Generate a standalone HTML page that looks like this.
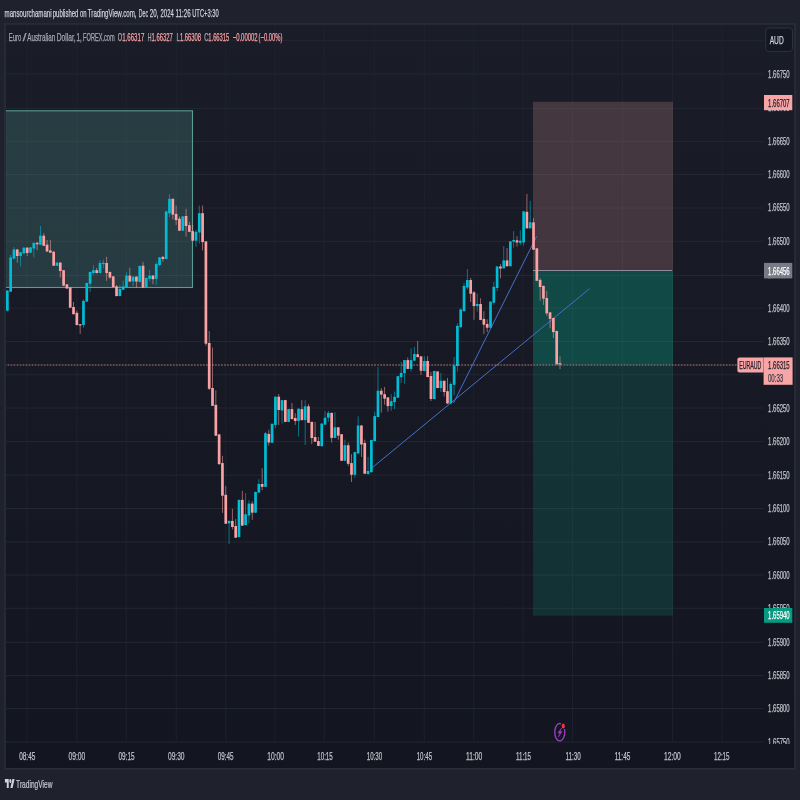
<!DOCTYPE html><html><head><meta charset="utf-8"><title>EURAUD chart</title><style>html,body{margin:0;padding:0;background:#1f222d;width:800px;height:800px;overflow:hidden}svg{display:block;font-family:"Liberation Sans",Arial,sans-serif}</style></head><body>
<svg width="800" height="800" viewBox="0 0 800 800">
<defs><linearGradient id="bg" x1="0" y1="0" x2="0" y2="1"><stop offset="0" stop-color="#1a1d28"/><stop offset="1" stop-color="#131620"/></linearGradient><clipPath id="pane"><rect x="6" y="25" width="757.5" height="717"/></clipPath><clipPath id="axis"><rect x="730" y="25" width="64" height="719"/></clipPath></defs>
<rect width="800" height="800" fill="#1f222d"/>
<text x="4.60" y="16.80" textLength="47.00" lengthAdjust="spacingAndGlyphs" font-size="11.2" fill="#d1d4dc" font-weight="normal" stroke="#d1d4dc" stroke-width="0.25">mansourchamani</text>
<text x="52.80" y="16.80" textLength="25.60" lengthAdjust="spacingAndGlyphs" font-size="11.2" fill="#d1d4dc" font-weight="normal" stroke="#d1d4dc" stroke-width="0.25">published</text>
<text x="79.95" y="16.80" textLength="6.60" lengthAdjust="spacingAndGlyphs" font-size="11.2" fill="#d1d4dc" font-weight="normal" stroke="#d1d4dc" stroke-width="0.25">on</text>
<text x="87.80" y="16.80" textLength="48.75" lengthAdjust="spacingAndGlyphs" font-size="11.2" fill="#d1d4dc" font-weight="normal" stroke="#d1d4dc" stroke-width="0.25">TradingView.com,</text>
<text x="138.80" y="16.80" textLength="9.30" lengthAdjust="spacingAndGlyphs" font-size="11.2" fill="#d1d4dc" font-weight="normal" stroke="#d1d4dc" stroke-width="0.25">Dec</text>
<text x="149.70" y="16.80" textLength="8.70" lengthAdjust="spacingAndGlyphs" font-size="11.2" fill="#d1d4dc" font-weight="normal" stroke="#d1d4dc" stroke-width="0.25">20,</text>
<text x="160.60" y="16.80" textLength="13.10" lengthAdjust="spacingAndGlyphs" font-size="11.2" fill="#d1d4dc" font-weight="normal" stroke="#d1d4dc" stroke-width="0.25">2024</text>
<text x="175.60" y="16.80" textLength="15.00" lengthAdjust="spacingAndGlyphs" font-size="11.2" fill="#d1d4dc" font-weight="normal" stroke="#d1d4dc" stroke-width="0.25">11:26</text>
<text x="192.20" y="16.80" textLength="26.50" lengthAdjust="spacingAndGlyphs" font-size="11.2" fill="#d1d4dc" font-weight="normal" stroke="#d1d4dc" stroke-width="0.25">UTC+3:30</text>
<rect x="5" y="24" width="790" height="744.7" fill="url(#bg)"/>
<g stroke="#232733" stroke-width="1"><line x1="27.00" y1="25" x2="27.00" y2="742" stroke-opacity="0.65"/><line x1="76.75" y1="25" x2="76.75" y2="742" stroke-opacity="0.65"/><line x1="126.25" y1="25" x2="126.25" y2="742" stroke-opacity="0.65"/><line x1="176.25" y1="25" x2="176.25" y2="742" stroke-opacity="0.65"/><line x1="225.75" y1="25" x2="225.75" y2="742" stroke-opacity="0.65"/><line x1="275.00" y1="25" x2="275.00" y2="742" stroke-opacity="0.65"/><line x1="324.25" y1="25" x2="324.25" y2="742" stroke-opacity="0.65"/><line x1="374.25" y1="25" x2="374.25" y2="742" stroke-opacity="0.65"/><line x1="424.25" y1="25" x2="424.25" y2="742" stroke-opacity="0.65"/><line x1="473.75" y1="25" x2="473.75" y2="742" stroke-opacity="0.65"/><line x1="523.00" y1="25" x2="523.00" y2="742" stroke-opacity="0.65"/><line x1="572.50" y1="25" x2="572.50" y2="742" stroke-opacity="0.65"/><line x1="622.50" y1="25" x2="622.50" y2="742" stroke-opacity="0.65"/><line x1="672.50" y1="25" x2="672.50" y2="742" stroke-opacity="0.65"/><line x1="722.00" y1="25" x2="722.00" y2="742" stroke-opacity="0.65"/><line x1="6" y1="40.75" x2="763.5" y2="40.75"/><line x1="6" y1="74.00" x2="763.5" y2="74.00"/><line x1="6" y1="108.45" x2="763.5" y2="108.45"/><line x1="6" y1="141.45" x2="763.5" y2="141.45"/><line x1="6" y1="174.50" x2="763.5" y2="174.50"/><line x1="6" y1="208.00" x2="763.5" y2="208.00"/><line x1="6" y1="241.30" x2="763.5" y2="241.30"/><line x1="6" y1="275.50" x2="763.5" y2="275.50"/><line x1="6" y1="308.20" x2="763.5" y2="308.20"/><line x1="6" y1="341.50" x2="763.5" y2="341.50"/><line x1="6" y1="374.80" x2="763.5" y2="374.80"/><line x1="6" y1="408.00" x2="763.5" y2="408.00"/><line x1="6" y1="441.45" x2="763.5" y2="441.45"/><line x1="6" y1="475.20" x2="763.5" y2="475.20"/><line x1="6" y1="508.50" x2="763.5" y2="508.50"/><line x1="6" y1="542.00" x2="763.5" y2="542.00"/><line x1="6" y1="575.00" x2="763.5" y2="575.00"/><line x1="6" y1="608.30" x2="763.5" y2="608.30"/><line x1="6" y1="642.30" x2="763.5" y2="642.30"/><line x1="6" y1="675.60" x2="763.5" y2="675.60"/><line x1="6" y1="708.60" x2="763.5" y2="708.60"/><line x1="6" y1="742.00" x2="763.5" y2="742.00"/></g>
<g stroke="#2a2d3a" stroke-width="1.6"><line x1="4.2" y1="24" x2="795.8" y2="24"/><line x1="4.2" y1="768.75" x2="795.8" y2="768.75"/><line x1="5" y1="23.2" x2="5" y2="769.5"/><line x1="795" y1="23.2" x2="795" y2="769.5"/></g>
<g clip-path="url(#pane)">
<rect x="5.5" y="110.8" width="187" height="176.7" fill="#66c2b6" fill-opacity="0.2" stroke="#5a9c91" stroke-width="1.1"/>
<rect x="533" y="101.8" width="140" height="168.7" fill="#f7a6a6" fill-opacity="0.2"/>
<rect x="533" y="270.5" width="140" height="345.2" fill="#089981" fill-opacity="0.2"/>
<rect x="533" y="270.5" width="140" height="94" fill="#089981" fill-opacity="0.22"/>
<line x1="533" y1="270.5" x2="672" y2="270.5" stroke="#8a8d99" stroke-width="1"/>
<line x1="370" y1="469.5" x2="589.5" y2="288.7" stroke="#4670c8" stroke-width="1"/>
<line x1="453.5" y1="403" x2="536.7" y2="236.2" stroke="#4670c8" stroke-width="1"/>
<g><rect x="6.89" y="290.00" width="0.9" height="21.50" fill="#00bcd4" opacity="0.6"/><rect x="5.99" y="290.50" width="2.7" height="20.20" fill="#00bcd4"/><rect x="10.20" y="255.00" width="0.9" height="37.00" fill="#00bcd4" opacity="0.6"/><rect x="9.30" y="257.50" width="2.7" height="34.20" fill="#00bcd4"/><rect x="13.51" y="247.00" width="0.9" height="12.00" fill="#00bcd4" opacity="0.6"/><rect x="12.61" y="249.50" width="2.7" height="9.20" fill="#00bcd4"/><rect x="16.82" y="249.00" width="0.9" height="13.70" fill="#faa1a4" opacity="0.6"/><rect x="15.92" y="249.50" width="2.7" height="6.50" fill="#faa1a4"/><rect x="20.13" y="252.00" width="0.9" height="14.50" fill="#00bcd4" opacity="0.6"/><rect x="19.23" y="252.20" width="2.7" height="3.80" fill="#00bcd4"/><rect x="23.44" y="247.00" width="0.9" height="7.50" fill="#00bcd4" opacity="0.6"/><rect x="22.54" y="247.70" width="2.7" height="5.60" fill="#00bcd4"/><rect x="26.75" y="247.00" width="0.9" height="9.00" fill="#faa1a4" opacity="0.6"/><rect x="25.85" y="247.70" width="2.7" height="5.30" fill="#faa1a4"/><rect x="30.06" y="247.00" width="0.9" height="6.00" fill="#00bcd4" opacity="0.6"/><rect x="29.16" y="247.40" width="2.7" height="5.30" fill="#00bcd4"/><rect x="33.37" y="242.00" width="0.9" height="15.50" fill="#00bcd4" opacity="0.6"/><rect x="32.47" y="243.00" width="2.7" height="5.50" fill="#00bcd4"/><rect x="36.68" y="242.00" width="0.9" height="8.00" fill="#faa1a4" opacity="0.6"/><rect x="35.78" y="242.80" width="2.7" height="1.50" fill="#faa1a4"/><rect x="39.99" y="226.00" width="0.9" height="19.00" fill="#00bcd4" opacity="0.6"/><rect x="39.09" y="235.70" width="2.7" height="9.00" fill="#00bcd4"/><rect x="43.30" y="233.20" width="0.9" height="12.80" fill="#faa1a4" opacity="0.6"/><rect x="42.40" y="235.70" width="2.7" height="10.10" fill="#faa1a4"/><rect x="46.61" y="240.00" width="0.9" height="12.00" fill="#faa1a4" opacity="0.6"/><rect x="45.71" y="244.70" width="2.7" height="6.80" fill="#faa1a4"/><rect x="49.92" y="240.00" width="0.9" height="13.00" fill="#faa1a4" opacity="0.6"/><rect x="49.02" y="250.40" width="2.7" height="2.30" fill="#faa1a4"/><rect x="53.22" y="251.00" width="0.9" height="15.00" fill="#faa1a4" opacity="0.6"/><rect x="52.32" y="251.80" width="2.7" height="13.90" fill="#faa1a4"/><rect x="56.53" y="262.00" width="0.9" height="4.00" fill="#00bcd4" opacity="0.6"/><rect x="55.63" y="262.70" width="2.7" height="3.10" fill="#00bcd4"/><rect x="59.84" y="262.30" width="0.9" height="15.20" fill="#faa1a4" opacity="0.6"/><rect x="58.94" y="262.60" width="2.7" height="8.40" fill="#faa1a4"/><rect x="63.15" y="270.00" width="0.9" height="16.00" fill="#faa1a4" opacity="0.6"/><rect x="62.25" y="270.20" width="2.7" height="15.50" fill="#faa1a4"/><rect x="66.46" y="284.00" width="0.9" height="5.00" fill="#faa1a4" opacity="0.6"/><rect x="65.56" y="284.40" width="2.7" height="4.10" fill="#faa1a4"/><rect x="69.77" y="287.00" width="0.9" height="21.00" fill="#faa1a4" opacity="0.6"/><rect x="68.87" y="287.50" width="2.7" height="20.20" fill="#faa1a4"/><rect x="73.08" y="302.00" width="0.9" height="12.50" fill="#faa1a4" opacity="0.6"/><rect x="72.18" y="307.00" width="2.7" height="7.20" fill="#faa1a4"/><rect x="76.39" y="310.50" width="0.9" height="15.00" fill="#faa1a4" opacity="0.6"/><rect x="75.49" y="312.80" width="2.7" height="12.20" fill="#faa1a4"/><rect x="79.70" y="324.00" width="0.9" height="9.90" fill="#faa1a4" opacity="0.6"/><rect x="78.80" y="324.30" width="2.7" height="1.20" fill="#faa1a4"/><rect x="83.01" y="299.50" width="0.9" height="28.20" fill="#00bcd4" opacity="0.6"/><rect x="82.11" y="300.90" width="2.7" height="24.10" fill="#00bcd4"/><rect x="86.32" y="282.50" width="0.9" height="19.50" fill="#00bcd4" opacity="0.6"/><rect x="85.42" y="283.00" width="2.7" height="18.60" fill="#00bcd4"/><rect x="89.63" y="271.50" width="0.9" height="20.50" fill="#00bcd4" opacity="0.6"/><rect x="88.73" y="272.00" width="2.7" height="11.70" fill="#00bcd4"/><rect x="92.94" y="265.10" width="0.9" height="9.60" fill="#00bcd4" opacity="0.6"/><rect x="92.04" y="270.20" width="2.7" height="2.80" fill="#00bcd4"/><rect x="96.25" y="268.00" width="0.9" height="5.50" fill="#faa1a4" opacity="0.6"/><rect x="95.35" y="270.20" width="2.7" height="2.80" fill="#faa1a4"/><rect x="99.55" y="260.30" width="0.9" height="13.20" fill="#00bcd4" opacity="0.6"/><rect x="98.65" y="263.00" width="2.7" height="10.00" fill="#00bcd4"/><rect x="102.86" y="259.60" width="0.9" height="8.90" fill="#00bcd4" opacity="0.6"/><rect x="101.96" y="262.80" width="2.7" height="1.30" fill="#00bcd4"/><rect x="106.17" y="256.80" width="0.9" height="24.10" fill="#faa1a4" opacity="0.6"/><rect x="105.27" y="263.00" width="2.7" height="10.00" fill="#faa1a4"/><rect x="109.48" y="271.50" width="0.9" height="7.40" fill="#faa1a4" opacity="0.6"/><rect x="108.58" y="272.00" width="2.7" height="5.50" fill="#faa1a4"/><rect x="112.79" y="276.00" width="0.9" height="11.50" fill="#faa1a4" opacity="0.6"/><rect x="111.89" y="276.40" width="2.7" height="10.60" fill="#faa1a4"/><rect x="116.10" y="285.00" width="0.9" height="11.50" fill="#faa1a4" opacity="0.6"/><rect x="115.20" y="286.30" width="2.7" height="9.70" fill="#faa1a4"/><rect x="119.41" y="285.00" width="0.9" height="11.50" fill="#00bcd4" opacity="0.6"/><rect x="118.51" y="288.80" width="2.7" height="7.20" fill="#00bcd4"/><rect x="122.72" y="280.80" width="0.9" height="9.20" fill="#00bcd4" opacity="0.6"/><rect x="121.82" y="286.30" width="2.7" height="3.50" fill="#00bcd4"/><rect x="126.03" y="272.30" width="0.9" height="15.20" fill="#00bcd4" opacity="0.6"/><rect x="125.13" y="275.60" width="2.7" height="11.40" fill="#00bcd4"/><rect x="129.34" y="267.70" width="0.9" height="14.30" fill="#faa1a4" opacity="0.6"/><rect x="128.44" y="275.60" width="2.7" height="5.90" fill="#faa1a4"/><rect x="132.65" y="276.00" width="0.9" height="10.30" fill="#00bcd4" opacity="0.6"/><rect x="131.75" y="276.70" width="2.7" height="4.80" fill="#00bcd4"/><rect x="135.96" y="276.00" width="0.9" height="11.70" fill="#faa1a4" opacity="0.6"/><rect x="135.06" y="276.70" width="2.7" height="4.80" fill="#faa1a4"/><rect x="139.27" y="265.50" width="0.9" height="16.70" fill="#00bcd4" opacity="0.6"/><rect x="138.37" y="266.00" width="2.7" height="15.90" fill="#00bcd4"/><rect x="142.58" y="261.80" width="0.9" height="26.20" fill="#faa1a4" opacity="0.6"/><rect x="141.68" y="265.70" width="2.7" height="22.00" fill="#faa1a4"/><rect x="145.88" y="277.00" width="0.9" height="11.00" fill="#00bcd4" opacity="0.6"/><rect x="144.98" y="278.00" width="2.7" height="9.70" fill="#00bcd4"/><rect x="149.19" y="269.80" width="0.9" height="11.70" fill="#00bcd4" opacity="0.6"/><rect x="148.29" y="275.60" width="2.7" height="3.20" fill="#00bcd4"/><rect x="152.50" y="275.00" width="0.9" height="9.30" fill="#faa1a4" opacity="0.6"/><rect x="151.60" y="275.60" width="2.7" height="3.60" fill="#faa1a4"/><rect x="155.81" y="262.20" width="0.9" height="22.80" fill="#00bcd4" opacity="0.6"/><rect x="154.91" y="264.00" width="2.7" height="14.80" fill="#00bcd4"/><rect x="159.12" y="257.00" width="0.9" height="9.40" fill="#00bcd4" opacity="0.6"/><rect x="158.22" y="257.40" width="2.7" height="7.60" fill="#00bcd4"/><rect x="162.43" y="255.80" width="0.9" height="5.80" fill="#faa1a4" opacity="0.6"/><rect x="161.53" y="256.90" width="2.7" height="2.10" fill="#faa1a4"/><rect x="165.74" y="210.50" width="0.9" height="48.80" fill="#00bcd4" opacity="0.6"/><rect x="164.84" y="211.50" width="2.7" height="47.50" fill="#00bcd4"/><rect x="169.05" y="194.00" width="0.9" height="23.30" fill="#00bcd4" opacity="0.6"/><rect x="168.15" y="198.80" width="2.7" height="14.50" fill="#00bcd4"/><rect x="172.36" y="198.50" width="0.9" height="20.90" fill="#faa1a4" opacity="0.6"/><rect x="171.46" y="198.80" width="2.7" height="15.80" fill="#faa1a4"/><rect x="175.67" y="205.60" width="0.9" height="19.30" fill="#faa1a4" opacity="0.6"/><rect x="174.77" y="213.90" width="2.7" height="6.20" fill="#faa1a4"/><rect x="178.98" y="216.40" width="0.9" height="14.60" fill="#faa1a4" opacity="0.6"/><rect x="178.08" y="218.70" width="2.7" height="12.00" fill="#faa1a4"/><rect x="182.29" y="216.00" width="0.9" height="15.00" fill="#00bcd4" opacity="0.6"/><rect x="181.39" y="216.40" width="2.7" height="14.30" fill="#00bcd4"/><rect x="185.60" y="209.00" width="0.9" height="27.60" fill="#faa1a4" opacity="0.6"/><rect x="184.70" y="216.00" width="2.7" height="10.00" fill="#faa1a4"/><rect x="188.91" y="221.90" width="0.9" height="10.10" fill="#faa1a4" opacity="0.6"/><rect x="188.01" y="225.20" width="2.7" height="6.60" fill="#faa1a4"/><rect x="192.22" y="224.90" width="0.9" height="16.10" fill="#faa1a4" opacity="0.6"/><rect x="191.31" y="231.10" width="2.7" height="9.60" fill="#faa1a4"/><rect x="195.52" y="229.70" width="0.9" height="17.20" fill="#00bcd4" opacity="0.6"/><rect x="194.62" y="231.80" width="2.7" height="8.90" fill="#00bcd4"/><rect x="198.83" y="205.60" width="0.9" height="37.90" fill="#00bcd4" opacity="0.6"/><rect x="197.93" y="213.20" width="2.7" height="19.30" fill="#00bcd4"/><rect x="202.14" y="205.60" width="0.9" height="44.80" fill="#faa1a4" opacity="0.6"/><rect x="201.24" y="213.20" width="2.7" height="28.90" fill="#faa1a4"/><rect x="205.45" y="241.00" width="0.9" height="104.70" fill="#faa1a4" opacity="0.6"/><rect x="204.55" y="241.40" width="2.7" height="102.30" fill="#faa1a4"/><rect x="208.76" y="331.00" width="0.9" height="59.00" fill="#faa1a4" opacity="0.6"/><rect x="207.86" y="343.00" width="2.7" height="45.80" fill="#faa1a4"/><rect x="212.07" y="347.50" width="0.9" height="58.50" fill="#faa1a4" opacity="0.6"/><rect x="211.17" y="388.00" width="2.7" height="17.90" fill="#faa1a4"/><rect x="215.38" y="390.30" width="0.9" height="45.70" fill="#faa1a4" opacity="0.6"/><rect x="214.48" y="404.80" width="2.7" height="30.90" fill="#faa1a4"/><rect x="218.69" y="434.00" width="0.9" height="31.00" fill="#faa1a4" opacity="0.6"/><rect x="217.79" y="434.40" width="2.7" height="29.70" fill="#faa1a4"/><rect x="222.00" y="455.80" width="0.9" height="57.10" fill="#faa1a4" opacity="0.6"/><rect x="221.10" y="463.10" width="2.7" height="32.60" fill="#faa1a4"/><rect x="225.31" y="486.10" width="0.9" height="37.90" fill="#faa1a4" opacity="0.6"/><rect x="224.41" y="494.80" width="2.7" height="28.90" fill="#faa1a4"/><rect x="228.62" y="520.50" width="0.9" height="23.40" fill="#00bcd4" opacity="0.6"/><rect x="227.72" y="520.90" width="2.7" height="2.40" fill="#00bcd4"/><rect x="231.93" y="508.80" width="0.9" height="20.60" fill="#faa1a4" opacity="0.6"/><rect x="231.03" y="520.90" width="2.7" height="6.10" fill="#faa1a4"/><rect x="235.24" y="519.10" width="0.9" height="18.90" fill="#faa1a4" opacity="0.6"/><rect x="234.34" y="526.00" width="2.7" height="11.70" fill="#faa1a4"/><rect x="238.55" y="499.50" width="0.9" height="38.00" fill="#00bcd4" opacity="0.6"/><rect x="237.65" y="499.90" width="2.7" height="37.10" fill="#00bcd4"/><rect x="241.85" y="490.90" width="0.9" height="35.10" fill="#faa1a4" opacity="0.6"/><rect x="240.95" y="499.90" width="2.7" height="25.70" fill="#faa1a4"/><rect x="245.16" y="493.00" width="0.9" height="32.50" fill="#00bcd4" opacity="0.6"/><rect x="244.26" y="514.30" width="2.7" height="10.70" fill="#00bcd4"/><rect x="248.47" y="500.30" width="0.9" height="23.00" fill="#00bcd4" opacity="0.6"/><rect x="247.57" y="503.60" width="2.7" height="11.80" fill="#00bcd4"/><rect x="251.78" y="501.20" width="0.9" height="18.60" fill="#faa1a4" opacity="0.6"/><rect x="250.88" y="503.60" width="2.7" height="9.10" fill="#faa1a4"/><rect x="255.09" y="491.50" width="0.9" height="21.50" fill="#00bcd4" opacity="0.6"/><rect x="254.19" y="492.00" width="2.7" height="20.70" fill="#00bcd4"/><rect x="258.40" y="479.20" width="0.9" height="13.80" fill="#00bcd4" opacity="0.6"/><rect x="257.50" y="484.00" width="2.7" height="8.60" fill="#00bcd4"/><rect x="261.71" y="468.20" width="0.9" height="22.00" fill="#faa1a4" opacity="0.6"/><rect x="260.81" y="484.00" width="2.7" height="2.80" fill="#faa1a4"/><rect x="265.02" y="431.80" width="0.9" height="55.20" fill="#00bcd4" opacity="0.6"/><rect x="264.12" y="433.20" width="2.7" height="53.60" fill="#00bcd4"/><rect x="268.33" y="429.70" width="0.9" height="15.90" fill="#faa1a4" opacity="0.6"/><rect x="267.43" y="433.90" width="2.7" height="8.60" fill="#faa1a4"/><rect x="271.64" y="423.50" width="0.9" height="19.50" fill="#00bcd4" opacity="0.6"/><rect x="270.74" y="423.80" width="2.7" height="19.00" fill="#00bcd4"/><rect x="274.95" y="396.30" width="0.9" height="32.00" fill="#00bcd4" opacity="0.6"/><rect x="274.05" y="396.70" width="2.7" height="28.20" fill="#00bcd4"/><rect x="278.26" y="394.00" width="0.9" height="30.90" fill="#faa1a4" opacity="0.6"/><rect x="277.36" y="396.70" width="2.7" height="13.30" fill="#faa1a4"/><rect x="281.57" y="399.80" width="0.9" height="23.70" fill="#00bcd4" opacity="0.6"/><rect x="280.67" y="400.10" width="2.7" height="10.40" fill="#00bcd4"/><rect x="284.88" y="399.80" width="0.9" height="22.40" fill="#faa1a4" opacity="0.6"/><rect x="283.98" y="400.10" width="2.7" height="21.80" fill="#faa1a4"/><rect x="288.18" y="408.80" width="0.9" height="13.40" fill="#00bcd4" opacity="0.6"/><rect x="287.28" y="409.10" width="2.7" height="12.80" fill="#00bcd4"/><rect x="291.49" y="402.90" width="0.9" height="16.50" fill="#faa1a4" opacity="0.6"/><rect x="290.59" y="409.10" width="2.7" height="10.00" fill="#faa1a4"/><rect x="294.80" y="413.20" width="0.9" height="11.70" fill="#faa1a4" opacity="0.6"/><rect x="293.90" y="418.00" width="2.7" height="3.00" fill="#faa1a4"/><rect x="298.11" y="408.40" width="0.9" height="28.20" fill="#00bcd4" opacity="0.6"/><rect x="297.21" y="408.70" width="2.7" height="12.30" fill="#00bcd4"/><rect x="301.42" y="400.10" width="0.9" height="20.30" fill="#faa1a4" opacity="0.6"/><rect x="300.52" y="409.10" width="2.7" height="11.00" fill="#faa1a4"/><rect x="304.73" y="400.10" width="0.9" height="44.80" fill="#00bcd4" opacity="0.6"/><rect x="303.83" y="406.30" width="2.7" height="13.80" fill="#00bcd4"/><rect x="308.04" y="404.00" width="0.9" height="19.00" fill="#faa1a4" opacity="0.6"/><rect x="307.14" y="406.30" width="2.7" height="16.50" fill="#faa1a4"/><rect x="311.35" y="421.50" width="0.9" height="22.70" fill="#faa1a4" opacity="0.6"/><rect x="310.45" y="421.90" width="2.7" height="16.10" fill="#faa1a4"/><rect x="314.66" y="421.90" width="0.9" height="20.10" fill="#faa1a4" opacity="0.6"/><rect x="313.76" y="437.00" width="2.7" height="4.70" fill="#faa1a4"/><rect x="317.97" y="437.00" width="0.9" height="9.20" fill="#faa1a4" opacity="0.6"/><rect x="317.07" y="441.10" width="2.7" height="4.80" fill="#faa1a4"/><rect x="321.28" y="423.30" width="0.9" height="23.20" fill="#00bcd4" opacity="0.6"/><rect x="320.38" y="423.60" width="2.7" height="22.60" fill="#00bcd4"/><rect x="324.59" y="411.20" width="0.9" height="13.70" fill="#00bcd4" opacity="0.6"/><rect x="323.69" y="417.70" width="2.7" height="6.90" fill="#00bcd4"/><rect x="327.90" y="410.80" width="0.9" height="11.00" fill="#00bcd4" opacity="0.6"/><rect x="327.00" y="412.90" width="2.7" height="4.80" fill="#00bcd4"/><rect x="331.21" y="412.60" width="0.9" height="29.90" fill="#faa1a4" opacity="0.6"/><rect x="330.31" y="412.90" width="2.7" height="25.00" fill="#faa1a4"/><rect x="334.51" y="412.20" width="0.9" height="26.00" fill="#00bcd4" opacity="0.6"/><rect x="333.61" y="427.30" width="2.7" height="10.60" fill="#00bcd4"/><rect x="337.82" y="427.00" width="0.9" height="12.70" fill="#faa1a4" opacity="0.6"/><rect x="336.92" y="427.30" width="2.7" height="8.30" fill="#faa1a4"/><rect x="341.13" y="434.00" width="0.9" height="27.00" fill="#faa1a4" opacity="0.6"/><rect x="340.23" y="434.20" width="2.7" height="26.60" fill="#faa1a4"/><rect x="344.44" y="439.70" width="0.9" height="21.30" fill="#00bcd4" opacity="0.6"/><rect x="343.54" y="445.20" width="2.7" height="15.60" fill="#00bcd4"/><rect x="347.75" y="442.50" width="0.9" height="23.40" fill="#faa1a4" opacity="0.6"/><rect x="346.85" y="445.20" width="2.7" height="18.60" fill="#faa1a4"/><rect x="351.06" y="454.20" width="0.9" height="27.80" fill="#faa1a4" opacity="0.6"/><rect x="350.16" y="463.10" width="2.7" height="11.70" fill="#faa1a4"/><rect x="354.37" y="451.80" width="0.9" height="25.80" fill="#00bcd4" opacity="0.6"/><rect x="353.47" y="452.10" width="2.7" height="22.70" fill="#00bcd4"/><rect x="357.68" y="416.30" width="0.9" height="37.50" fill="#00bcd4" opacity="0.6"/><rect x="356.78" y="425.50" width="2.7" height="28.00" fill="#00bcd4"/><rect x="360.99" y="425.20" width="0.9" height="31.70" fill="#faa1a4" opacity="0.6"/><rect x="360.09" y="425.50" width="2.7" height="19.00" fill="#faa1a4"/><rect x="364.30" y="439.70" width="0.9" height="34.30" fill="#faa1a4" opacity="0.6"/><rect x="363.40" y="442.90" width="2.7" height="30.80" fill="#faa1a4"/><rect x="367.61" y="456.90" width="0.9" height="17.50" fill="#00bcd4" opacity="0.6"/><rect x="366.71" y="471.00" width="2.7" height="3.10" fill="#00bcd4"/><rect x="370.92" y="439.50" width="0.9" height="33.00" fill="#00bcd4" opacity="0.6"/><rect x="370.02" y="440.00" width="2.7" height="32.20" fill="#00bcd4"/><rect x="374.23" y="411.70" width="0.9" height="29.70" fill="#00bcd4" opacity="0.6"/><rect x="373.33" y="416.10" width="2.7" height="25.00" fill="#00bcd4"/><rect x="377.54" y="367.10" width="0.9" height="50.20" fill="#00bcd4" opacity="0.6"/><rect x="376.64" y="390.70" width="2.7" height="26.30" fill="#00bcd4"/><rect x="380.85" y="388.10" width="0.9" height="24.50" fill="#faa1a4" opacity="0.6"/><rect x="379.95" y="390.70" width="2.7" height="3.90" fill="#faa1a4"/><rect x="384.15" y="386.90" width="0.9" height="17.80" fill="#faa1a4" opacity="0.6"/><rect x="383.25" y="394.20" width="2.7" height="4.40" fill="#faa1a4"/><rect x="387.46" y="397.00" width="0.9" height="14.70" fill="#faa1a4" opacity="0.6"/><rect x="386.56" y="397.40" width="2.7" height="8.70" fill="#faa1a4"/><rect x="390.77" y="394.20" width="0.9" height="16.60" fill="#00bcd4" opacity="0.6"/><rect x="389.87" y="401.20" width="2.7" height="4.90" fill="#00bcd4"/><rect x="394.08" y="391.60" width="0.9" height="17.50" fill="#00bcd4" opacity="0.6"/><rect x="393.18" y="396.80" width="2.7" height="5.30" fill="#00bcd4"/><rect x="397.39" y="376.00" width="0.9" height="22.00" fill="#00bcd4" opacity="0.6"/><rect x="396.49" y="376.20" width="2.7" height="21.50" fill="#00bcd4"/><rect x="400.70" y="361.90" width="0.9" height="21.00" fill="#00bcd4" opacity="0.6"/><rect x="399.80" y="372.90" width="2.7" height="4.20" fill="#00bcd4"/><rect x="404.01" y="360.00" width="0.9" height="23.70" fill="#00bcd4" opacity="0.6"/><rect x="403.11" y="360.10" width="2.7" height="13.10" fill="#00bcd4"/><rect x="407.32" y="357.50" width="0.9" height="11.70" fill="#faa1a4" opacity="0.6"/><rect x="406.42" y="360.10" width="2.7" height="8.80" fill="#faa1a4"/><rect x="410.63" y="348.40" width="0.9" height="23.10" fill="#00bcd4" opacity="0.6"/><rect x="409.73" y="360.10" width="2.7" height="8.80" fill="#00bcd4"/><rect x="413.94" y="347.00" width="0.9" height="14.00" fill="#00bcd4" opacity="0.6"/><rect x="413.04" y="354.00" width="2.7" height="6.60" fill="#00bcd4"/><rect x="417.25" y="340.90" width="0.9" height="16.50" fill="#faa1a4" opacity="0.6"/><rect x="416.35" y="354.30" width="2.7" height="2.80" fill="#faa1a4"/><rect x="420.56" y="356.00" width="0.9" height="19.00" fill="#faa1a4" opacity="0.6"/><rect x="419.66" y="356.40" width="2.7" height="14.40" fill="#faa1a4"/><rect x="423.87" y="356.20" width="0.9" height="15.10" fill="#00bcd4" opacity="0.6"/><rect x="422.97" y="361.00" width="2.7" height="10.00" fill="#00bcd4"/><rect x="427.18" y="356.20" width="0.9" height="21.10" fill="#faa1a4" opacity="0.6"/><rect x="426.28" y="361.00" width="2.7" height="16.00" fill="#faa1a4"/><rect x="430.48" y="372.00" width="0.9" height="29.00" fill="#faa1a4" opacity="0.6"/><rect x="429.58" y="376.00" width="2.7" height="23.00" fill="#faa1a4"/><rect x="433.79" y="370.70" width="0.9" height="28.60" fill="#00bcd4" opacity="0.6"/><rect x="432.89" y="371.00" width="2.7" height="28.00" fill="#00bcd4"/><rect x="437.10" y="371.20" width="0.9" height="17.10" fill="#faa1a4" opacity="0.6"/><rect x="436.20" y="371.50" width="2.7" height="16.50" fill="#faa1a4"/><rect x="440.41" y="373.00" width="0.9" height="19.00" fill="#00bcd4" opacity="0.6"/><rect x="439.51" y="380.80" width="2.7" height="7.20" fill="#00bcd4"/><rect x="443.72" y="380.50" width="0.9" height="16.00" fill="#faa1a4" opacity="0.6"/><rect x="442.82" y="380.80" width="2.7" height="11.20" fill="#faa1a4"/><rect x="447.03" y="378.00" width="0.9" height="25.80" fill="#faa1a4" opacity="0.6"/><rect x="446.13" y="391.20" width="2.7" height="12.30" fill="#faa1a4"/><rect x="450.34" y="382.00" width="0.9" height="21.80" fill="#00bcd4" opacity="0.6"/><rect x="449.44" y="384.00" width="2.7" height="19.50" fill="#00bcd4"/><rect x="453.65" y="357.00" width="0.9" height="38.50" fill="#00bcd4" opacity="0.6"/><rect x="452.75" y="365.50" width="2.7" height="19.30" fill="#00bcd4"/><rect x="456.96" y="323.30" width="0.9" height="48.20" fill="#00bcd4" opacity="0.6"/><rect x="456.06" y="325.80" width="2.7" height="40.20" fill="#00bcd4"/><rect x="460.27" y="308.20" width="0.9" height="19.30" fill="#00bcd4" opacity="0.6"/><rect x="459.37" y="309.50" width="2.7" height="17.70" fill="#00bcd4"/><rect x="463.58" y="283.10" width="0.9" height="28.40" fill="#00bcd4" opacity="0.6"/><rect x="462.68" y="285.90" width="2.7" height="25.30" fill="#00bcd4"/><rect x="466.89" y="269.00" width="0.9" height="20.60" fill="#00bcd4" opacity="0.6"/><rect x="465.99" y="280.00" width="2.7" height="7.50" fill="#00bcd4"/><rect x="470.20" y="277.90" width="0.9" height="24.10" fill="#faa1a4" opacity="0.6"/><rect x="469.30" y="280.00" width="2.7" height="13.70" fill="#faa1a4"/><rect x="473.51" y="291.00" width="0.9" height="28.90" fill="#faa1a4" opacity="0.6"/><rect x="472.61" y="292.30" width="2.7" height="13.80" fill="#faa1a4"/><rect x="476.81" y="293.70" width="0.9" height="17.90" fill="#00bcd4" opacity="0.6"/><rect x="475.91" y="304.00" width="2.7" height="2.10" fill="#00bcd4"/><rect x="480.12" y="298.30" width="0.9" height="21.90" fill="#faa1a4" opacity="0.6"/><rect x="479.22" y="304.00" width="2.7" height="15.90" fill="#faa1a4"/><rect x="483.43" y="311.20" width="0.9" height="23.10" fill="#faa1a4" opacity="0.6"/><rect x="482.53" y="318.90" width="2.7" height="5.80" fill="#faa1a4"/><rect x="486.74" y="319.40" width="0.9" height="12.80" fill="#faa1a4" opacity="0.6"/><rect x="485.84" y="324.00" width="2.7" height="3.70" fill="#faa1a4"/><rect x="490.05" y="301.30" width="0.9" height="26.70" fill="#00bcd4" opacity="0.6"/><rect x="489.15" y="301.60" width="2.7" height="26.10" fill="#00bcd4"/><rect x="493.36" y="281.70" width="0.9" height="23.00" fill="#00bcd4" opacity="0.6"/><rect x="492.46" y="286.80" width="2.7" height="15.90" fill="#00bcd4"/><rect x="496.67" y="266.00" width="0.9" height="25.00" fill="#00bcd4" opacity="0.6"/><rect x="495.77" y="266.50" width="2.7" height="21.50" fill="#00bcd4"/><rect x="499.98" y="264.10" width="0.9" height="14.20" fill="#faa1a4" opacity="0.6"/><rect x="499.08" y="266.50" width="2.7" height="2.00" fill="#faa1a4"/><rect x="503.29" y="246.20" width="0.9" height="22.40" fill="#00bcd4" opacity="0.6"/><rect x="502.39" y="260.40" width="2.7" height="7.90" fill="#00bcd4"/><rect x="506.60" y="248.00" width="0.9" height="18.50" fill="#faa1a4" opacity="0.6"/><rect x="505.70" y="260.40" width="2.7" height="5.80" fill="#faa1a4"/><rect x="509.91" y="241.10" width="0.9" height="25.40" fill="#00bcd4" opacity="0.6"/><rect x="509.01" y="241.40" width="2.7" height="24.80" fill="#00bcd4"/><rect x="513.22" y="231.10" width="0.9" height="16.50" fill="#00bcd4" opacity="0.6"/><rect x="512.32" y="240.00" width="2.7" height="1.70" fill="#00bcd4"/><rect x="516.53" y="236.20" width="0.9" height="10.40" fill="#faa1a4" opacity="0.6"/><rect x="515.63" y="240.30" width="2.7" height="2.20" fill="#faa1a4"/><rect x="519.84" y="230.40" width="0.9" height="14.50" fill="#00bcd4" opacity="0.6"/><rect x="518.94" y="240.70" width="2.7" height="2.10" fill="#00bcd4"/><rect x="523.14" y="211.00" width="0.9" height="34.50" fill="#00bcd4" opacity="0.6"/><rect x="522.25" y="211.40" width="2.7" height="31.10" fill="#00bcd4"/><rect x="526.45" y="193.90" width="0.9" height="34.70" fill="#faa1a4" opacity="0.6"/><rect x="525.55" y="211.80" width="2.7" height="16.50" fill="#faa1a4"/><rect x="529.76" y="200.80" width="0.9" height="27.80" fill="#00bcd4" opacity="0.6"/><rect x="528.86" y="222.20" width="2.7" height="6.10" fill="#00bcd4"/><rect x="533.07" y="218.00" width="0.9" height="32.00" fill="#faa1a4" opacity="0.6"/><rect x="532.17" y="222.40" width="2.7" height="27.30" fill="#faa1a4"/><rect x="536.38" y="248.00" width="0.9" height="33.10" fill="#faa1a4" opacity="0.6"/><rect x="535.48" y="248.30" width="2.7" height="32.50" fill="#faa1a4"/><rect x="539.69" y="278.10" width="0.9" height="22.70" fill="#faa1a4" opacity="0.6"/><rect x="538.79" y="279.90" width="2.7" height="7.10" fill="#faa1a4"/><rect x="543.00" y="285.60" width="0.9" height="19.30" fill="#faa1a4" opacity="0.6"/><rect x="542.10" y="285.90" width="2.7" height="12.80" fill="#faa1a4"/><rect x="546.31" y="290.90" width="0.9" height="25.00" fill="#faa1a4" opacity="0.6"/><rect x="545.41" y="298.00" width="2.7" height="15.40" fill="#faa1a4"/><rect x="549.62" y="312.00" width="0.9" height="16.30" fill="#faa1a4" opacity="0.6"/><rect x="548.72" y="312.40" width="2.7" height="6.50" fill="#faa1a4"/><rect x="552.93" y="317.70" width="0.9" height="20.20" fill="#faa1a4" opacity="0.6"/><rect x="552.03" y="318.00" width="2.7" height="14.10" fill="#faa1a4"/><rect x="556.24" y="330.70" width="0.9" height="33.90" fill="#faa1a4" opacity="0.6"/><rect x="555.34" y="331.00" width="2.7" height="33.30" fill="#faa1a4"/><rect x="559.55" y="356.40" width="0.9" height="12.70" fill="#faa1a4" opacity="0.6"/><rect x="558.65" y="363.10" width="2.7" height="1.30" fill="#faa1a4"/></g>
<line x1="4.575" y1="365.0" x2="763.5" y2="365.0" stroke="#faa1a4" stroke-opacity="0.45" stroke-width="1.6" stroke-dasharray="1.8 1.205"/>
<path d="M 561.04 723.80 A 5.0 8.7 0 1 0 564.45 729.22" fill="none" stroke="#9a3fc2" stroke-width="1.35"/>
<path d="M 561.5 728.1 L 557.9 733.0 L 559.9 733.0 L 558.5 736.9 L 562.0 731.5 L 560.0 731.5 Z" fill="#9a3fc2" stroke="#9a3fc2" stroke-width="0.5" stroke-linejoin="round"/>
<ellipse cx="563.25" cy="725.9" rx="1.55" ry="2.5" fill="#f23645"/>
</g>
<text x="8.80" y="41.10" textLength="12.60" lengthAdjust="spacingAndGlyphs" font-size="10.9" fill="#a6a9b2" font-weight="normal" stroke="#a6a9b2" stroke-width="0.25">Euro</text>
<text x="22.70" y="41.10" textLength="3.60" lengthAdjust="spacingAndGlyphs" font-size="10.9" fill="#a6a9b2" font-weight="normal" stroke="#a6a9b2" stroke-width="0.25">/</text>
<text x="27.20" y="41.10" textLength="28.00" lengthAdjust="spacingAndGlyphs" font-size="10.9" fill="#a6a9b2" font-weight="normal" stroke="#a6a9b2" stroke-width="0.25">Australian</text>
<text x="56.70" y="41.10" textLength="18.90" lengthAdjust="spacingAndGlyphs" font-size="10.9" fill="#a6a9b2" font-weight="normal" stroke="#a6a9b2" stroke-width="0.25">Dollar,</text>
<text x="76.50" y="41.10" textLength="5.20" lengthAdjust="spacingAndGlyphs" font-size="10.9" fill="#a6a9b2" font-weight="normal" stroke="#a6a9b2" stroke-width="0.25">1,</text>
<text x="83.10" y="41.10" textLength="31.50" lengthAdjust="spacingAndGlyphs" font-size="10.9" fill="#a6a9b2" font-weight="normal" stroke="#a6a9b2" stroke-width="0.25">FOREX.com</text>
<text x="117.80" y="41.10" textLength="4.40" lengthAdjust="spacingAndGlyphs" font-size="10.9" fill="#a6a9b2" font-weight="normal" stroke="#a6a9b2" stroke-width="0.25">O</text>
<text x="122.20" y="41.10" textLength="22.10" lengthAdjust="spacingAndGlyphs" font-size="10.9" fill="#faa1a4" font-weight="normal" stroke="#faa1a4" stroke-width="0.25">1.66317</text>
<text x="147.80" y="41.10" textLength="3.75" lengthAdjust="spacingAndGlyphs" font-size="10.9" fill="#a6a9b2" font-weight="normal" stroke="#a6a9b2" stroke-width="0.25">H</text>
<text x="151.60" y="41.10" textLength="21.20" lengthAdjust="spacingAndGlyphs" font-size="10.9" fill="#faa1a4" font-weight="normal" stroke="#faa1a4" stroke-width="0.25">1.66327</text>
<text x="176.45" y="41.10" textLength="3.35" lengthAdjust="spacingAndGlyphs" font-size="10.9" fill="#a6a9b2" font-weight="normal" stroke="#a6a9b2" stroke-width="0.25">L</text>
<text x="179.90" y="41.10" textLength="21.15" lengthAdjust="spacingAndGlyphs" font-size="10.9" fill="#faa1a4" font-weight="normal" stroke="#faa1a4" stroke-width="0.25">1.66308</text>
<text x="204.20" y="41.10" textLength="4.30" lengthAdjust="spacingAndGlyphs" font-size="10.9" fill="#a6a9b2" font-weight="normal" stroke="#a6a9b2" stroke-width="0.25">C</text>
<text x="208.30" y="41.10" textLength="21.00" lengthAdjust="spacingAndGlyphs" font-size="10.9" fill="#faa1a4" font-weight="normal" stroke="#faa1a4" stroke-width="0.25">1.66315</text>
<text x="232.70" y="41.10" textLength="24.90" lengthAdjust="spacingAndGlyphs" font-size="10.9" fill="#faa1a4" font-weight="normal" stroke="#faa1a4" stroke-width="0.25">−0.00002</text>
<text x="258.50" y="41.10" textLength="24.00" lengthAdjust="spacingAndGlyphs" font-size="10.9" fill="#faa1a4" font-weight="normal" stroke="#faa1a4" stroke-width="0.25">(−0.00%)</text>
<g clip-path="url(#axis)">
<text x="768.10" y="77.70" textLength="21.60" lengthAdjust="spacingAndGlyphs" font-size="10.9" fill="#c0c3cb" font-weight="normal" stroke="#c0c3cb" stroke-width="0.25">1.66750</text>
<text x="768.10" y="111.10" textLength="21.60" lengthAdjust="spacingAndGlyphs" font-size="10.9" fill="#c0c3cb" font-weight="normal" stroke="#c0c3cb" stroke-width="0.25">1.66700</text>
<text x="768.10" y="144.50" textLength="21.60" lengthAdjust="spacingAndGlyphs" font-size="10.9" fill="#c0c3cb" font-weight="normal" stroke="#c0c3cb" stroke-width="0.25">1.66650</text>
<text x="768.10" y="177.90" textLength="21.60" lengthAdjust="spacingAndGlyphs" font-size="10.9" fill="#c0c3cb" font-weight="normal" stroke="#c0c3cb" stroke-width="0.25">1.66600</text>
<text x="768.10" y="211.30" textLength="21.60" lengthAdjust="spacingAndGlyphs" font-size="10.9" fill="#c0c3cb" font-weight="normal" stroke="#c0c3cb" stroke-width="0.25">1.66550</text>
<text x="768.10" y="244.70" textLength="21.60" lengthAdjust="spacingAndGlyphs" font-size="10.9" fill="#c0c3cb" font-weight="normal" stroke="#c0c3cb" stroke-width="0.25">1.66500</text>
<text x="768.10" y="278.10" textLength="21.60" lengthAdjust="spacingAndGlyphs" font-size="10.9" fill="#c0c3cb" font-weight="normal" stroke="#c0c3cb" stroke-width="0.25">1.66450</text>
<text x="768.10" y="311.50" textLength="21.60" lengthAdjust="spacingAndGlyphs" font-size="10.9" fill="#c0c3cb" font-weight="normal" stroke="#c0c3cb" stroke-width="0.25">1.66400</text>
<text x="768.10" y="344.90" textLength="21.60" lengthAdjust="spacingAndGlyphs" font-size="10.9" fill="#c0c3cb" font-weight="normal" stroke="#c0c3cb" stroke-width="0.25">1.66350</text>
<text x="768.10" y="378.30" textLength="21.60" lengthAdjust="spacingAndGlyphs" font-size="10.9" fill="#c0c3cb" font-weight="normal" stroke="#c0c3cb" stroke-width="0.25">1.66300</text>
<text x="768.10" y="411.70" textLength="21.60" lengthAdjust="spacingAndGlyphs" font-size="10.9" fill="#c0c3cb" font-weight="normal" stroke="#c0c3cb" stroke-width="0.25">1.66250</text>
<text x="768.10" y="445.10" textLength="21.60" lengthAdjust="spacingAndGlyphs" font-size="10.9" fill="#c0c3cb" font-weight="normal" stroke="#c0c3cb" stroke-width="0.25">1.66200</text>
<text x="768.10" y="478.50" textLength="21.60" lengthAdjust="spacingAndGlyphs" font-size="10.9" fill="#c0c3cb" font-weight="normal" stroke="#c0c3cb" stroke-width="0.25">1.66150</text>
<text x="768.10" y="511.90" textLength="21.60" lengthAdjust="spacingAndGlyphs" font-size="10.9" fill="#c0c3cb" font-weight="normal" stroke="#c0c3cb" stroke-width="0.25">1.66100</text>
<text x="768.10" y="545.30" textLength="21.60" lengthAdjust="spacingAndGlyphs" font-size="10.9" fill="#c0c3cb" font-weight="normal" stroke="#c0c3cb" stroke-width="0.25">1.66050</text>
<text x="768.10" y="578.70" textLength="21.60" lengthAdjust="spacingAndGlyphs" font-size="10.9" fill="#c0c3cb" font-weight="normal" stroke="#c0c3cb" stroke-width="0.25">1.66000</text>
<text x="768.10" y="612.10" textLength="21.60" lengthAdjust="spacingAndGlyphs" font-size="10.9" fill="#c0c3cb" font-weight="normal" stroke="#c0c3cb" stroke-width="0.25">1.65950</text>
<text x="768.10" y="645.50" textLength="21.60" lengthAdjust="spacingAndGlyphs" font-size="10.9" fill="#c0c3cb" font-weight="normal" stroke="#c0c3cb" stroke-width="0.25">1.65900</text>
<text x="768.10" y="678.90" textLength="21.60" lengthAdjust="spacingAndGlyphs" font-size="10.9" fill="#c0c3cb" font-weight="normal" stroke="#c0c3cb" stroke-width="0.25">1.65850</text>
<text x="768.10" y="712.30" textLength="21.60" lengthAdjust="spacingAndGlyphs" font-size="10.9" fill="#c0c3cb" font-weight="normal" stroke="#c0c3cb" stroke-width="0.25">1.65800</text>
<text x="768.10" y="745.70" textLength="21.60" lengthAdjust="spacingAndGlyphs" font-size="10.9" fill="#c0c3cb" font-weight="normal" stroke="#c0c3cb" stroke-width="0.25">1.65750</text>
</g>
<text x="19.20" y="759.60" textLength="16.10" lengthAdjust="spacingAndGlyphs" font-size="11" fill="#c0c3cb" font-weight="normal" stroke="#c0c3cb" stroke-width="0.25">08:45</text>
<text x="68.45" y="759.60" textLength="16.85" lengthAdjust="spacingAndGlyphs" font-size="11" fill="#c0c3cb" font-weight="normal" stroke="#c0c3cb" stroke-width="0.25">09:00</text>
<text x="118.45" y="759.60" textLength="16.10" lengthAdjust="spacingAndGlyphs" font-size="11" fill="#c0c3cb" font-weight="normal" stroke="#c0c3cb" stroke-width="0.25">09:15</text>
<text x="167.95" y="759.60" textLength="16.60" lengthAdjust="spacingAndGlyphs" font-size="11" fill="#c0c3cb" font-weight="normal" stroke="#c0c3cb" stroke-width="0.25">09:30</text>
<text x="217.70" y="759.60" textLength="15.85" lengthAdjust="spacingAndGlyphs" font-size="11" fill="#c0c3cb" font-weight="normal" stroke="#c0c3cb" stroke-width="0.25">09:45</text>
<text x="267.20" y="759.60" textLength="16.85" lengthAdjust="spacingAndGlyphs" font-size="11" fill="#c0c3cb" font-weight="normal" stroke="#c0c3cb" stroke-width="0.25">10:00</text>
<text x="317.20" y="759.60" textLength="15.60" lengthAdjust="spacingAndGlyphs" font-size="11" fill="#c0c3cb" font-weight="normal" stroke="#c0c3cb" stroke-width="0.25">10:15</text>
<text x="366.70" y="759.60" textLength="15.60" lengthAdjust="spacingAndGlyphs" font-size="11" fill="#c0c3cb" font-weight="normal" stroke="#c0c3cb" stroke-width="0.25">10:30</text>
<text x="416.70" y="759.60" textLength="15.35" lengthAdjust="spacingAndGlyphs" font-size="11" fill="#c0c3cb" font-weight="normal" stroke="#c0c3cb" stroke-width="0.25">10:45</text>
<text x="465.95" y="759.60" textLength="16.35" lengthAdjust="spacingAndGlyphs" font-size="11" fill="#c0c3cb" font-weight="normal" stroke="#c0c3cb" stroke-width="0.25">11:00</text>
<text x="515.95" y="759.60" textLength="15.10" lengthAdjust="spacingAndGlyphs" font-size="11" fill="#c0c3cb" font-weight="normal" stroke="#c0c3cb" stroke-width="0.25">11:15</text>
<text x="565.45" y="759.60" textLength="15.35" lengthAdjust="spacingAndGlyphs" font-size="11" fill="#c0c3cb" font-weight="normal" stroke="#c0c3cb" stroke-width="0.25">11:30</text>
<text x="614.70" y="759.60" textLength="15.60" lengthAdjust="spacingAndGlyphs" font-size="11" fill="#c0c3cb" font-weight="normal" stroke="#c0c3cb" stroke-width="0.25">11:45</text>
<text x="663.95" y="759.60" textLength="16.85" lengthAdjust="spacingAndGlyphs" font-size="11" fill="#c0c3cb" font-weight="normal" stroke="#c0c3cb" stroke-width="0.25">12:00</text>
<text x="713.95" y="759.60" textLength="15.60" lengthAdjust="spacingAndGlyphs" font-size="11" fill="#c0c3cb" font-weight="normal" stroke="#c0c3cb" stroke-width="0.25">12:15</text>
<rect x="765.8" y="28" width="26.7" height="23.4" rx="3" fill="#131722" stroke="#2e3240" stroke-width="1"/>
<text x="769.70" y="43.80" textLength="14.00" lengthAdjust="spacingAndGlyphs" font-size="11.6" fill="#d1d4dc" font-weight="normal" stroke="#d1d4dc" stroke-width="0.25">AUD</text>
<rect x="764" y="95.00" width="28.3" height="15.2" fill="#f7a5a7"/>
<text x="768.10" y="106.50" textLength="21.60" lengthAdjust="spacingAndGlyphs" font-size="10.9" fill="#1e1e24" font-weight="normal" stroke="#1e1e24" stroke-width="0.25">1.66707</text>
<rect x="764" y="262.90" width="28.3" height="15.5" fill="#787b86"/>
<text x="768.10" y="274.55" textLength="21.60" lengthAdjust="spacingAndGlyphs" font-size="10.9" fill="#ffffff" font-weight="normal" stroke="#ffffff" stroke-width="0.25">1.66456</text>
<rect x="764" y="608.00" width="28.3" height="14.8" fill="#089981"/>
<text x="768.10" y="619.30" textLength="21.60" lengthAdjust="spacingAndGlyphs" font-size="10.9" fill="#ffffff" font-weight="normal" stroke="#ffffff" stroke-width="0.25">1.65940</text>
<path d="M 739.5 357.4 H 763.5 V 372.6 H 739.5 Q 737.4 372.6 737.4 370.5 V 359.5 Q 737.4 357.4 739.5 357.4 Z" fill="#f7a5a7"/>
<text x="739.30" y="368.80" textLength="22.10" lengthAdjust="spacingAndGlyphs" font-size="10.9" fill="#1e1e24" font-weight="normal" stroke="#1e1e24" stroke-width="0.25">EURAUD</text>
<rect x="763.6" y="357.4" width="29" height="27.4" fill="#f7a5a7"/>
<text x="768.10" y="368.80" textLength="21.60" lengthAdjust="spacingAndGlyphs" font-size="10.9" fill="#1e1e24" font-weight="normal" stroke="#1e1e24" stroke-width="0.25">1.66315</text>
<text x="767.90" y="381.60" textLength="15.40" lengthAdjust="spacingAndGlyphs" font-size="10.9" fill="#3c3c44" font-weight="normal" stroke="#3c3c44" stroke-width="0.25">00:33</text>
<g transform="translate(4.9 779.1) scale(0.273 0.5) translate(0 -4)" fill="#d1d4dc"><path d="M14 22H7V11H0V4h14v18z"/><circle cx="20" cy="8" r="4"/><path d="M28 22h-8l7.5-18h8L28 22z"/></g>
<text x="16.10" y="788.10" textLength="36.30" lengthAdjust="spacingAndGlyphs" font-size="11.3" fill="#c9ccd4" font-weight="normal" stroke="#c9ccd4" stroke-width="0.2">TradingView</text>
</svg></body></html>
